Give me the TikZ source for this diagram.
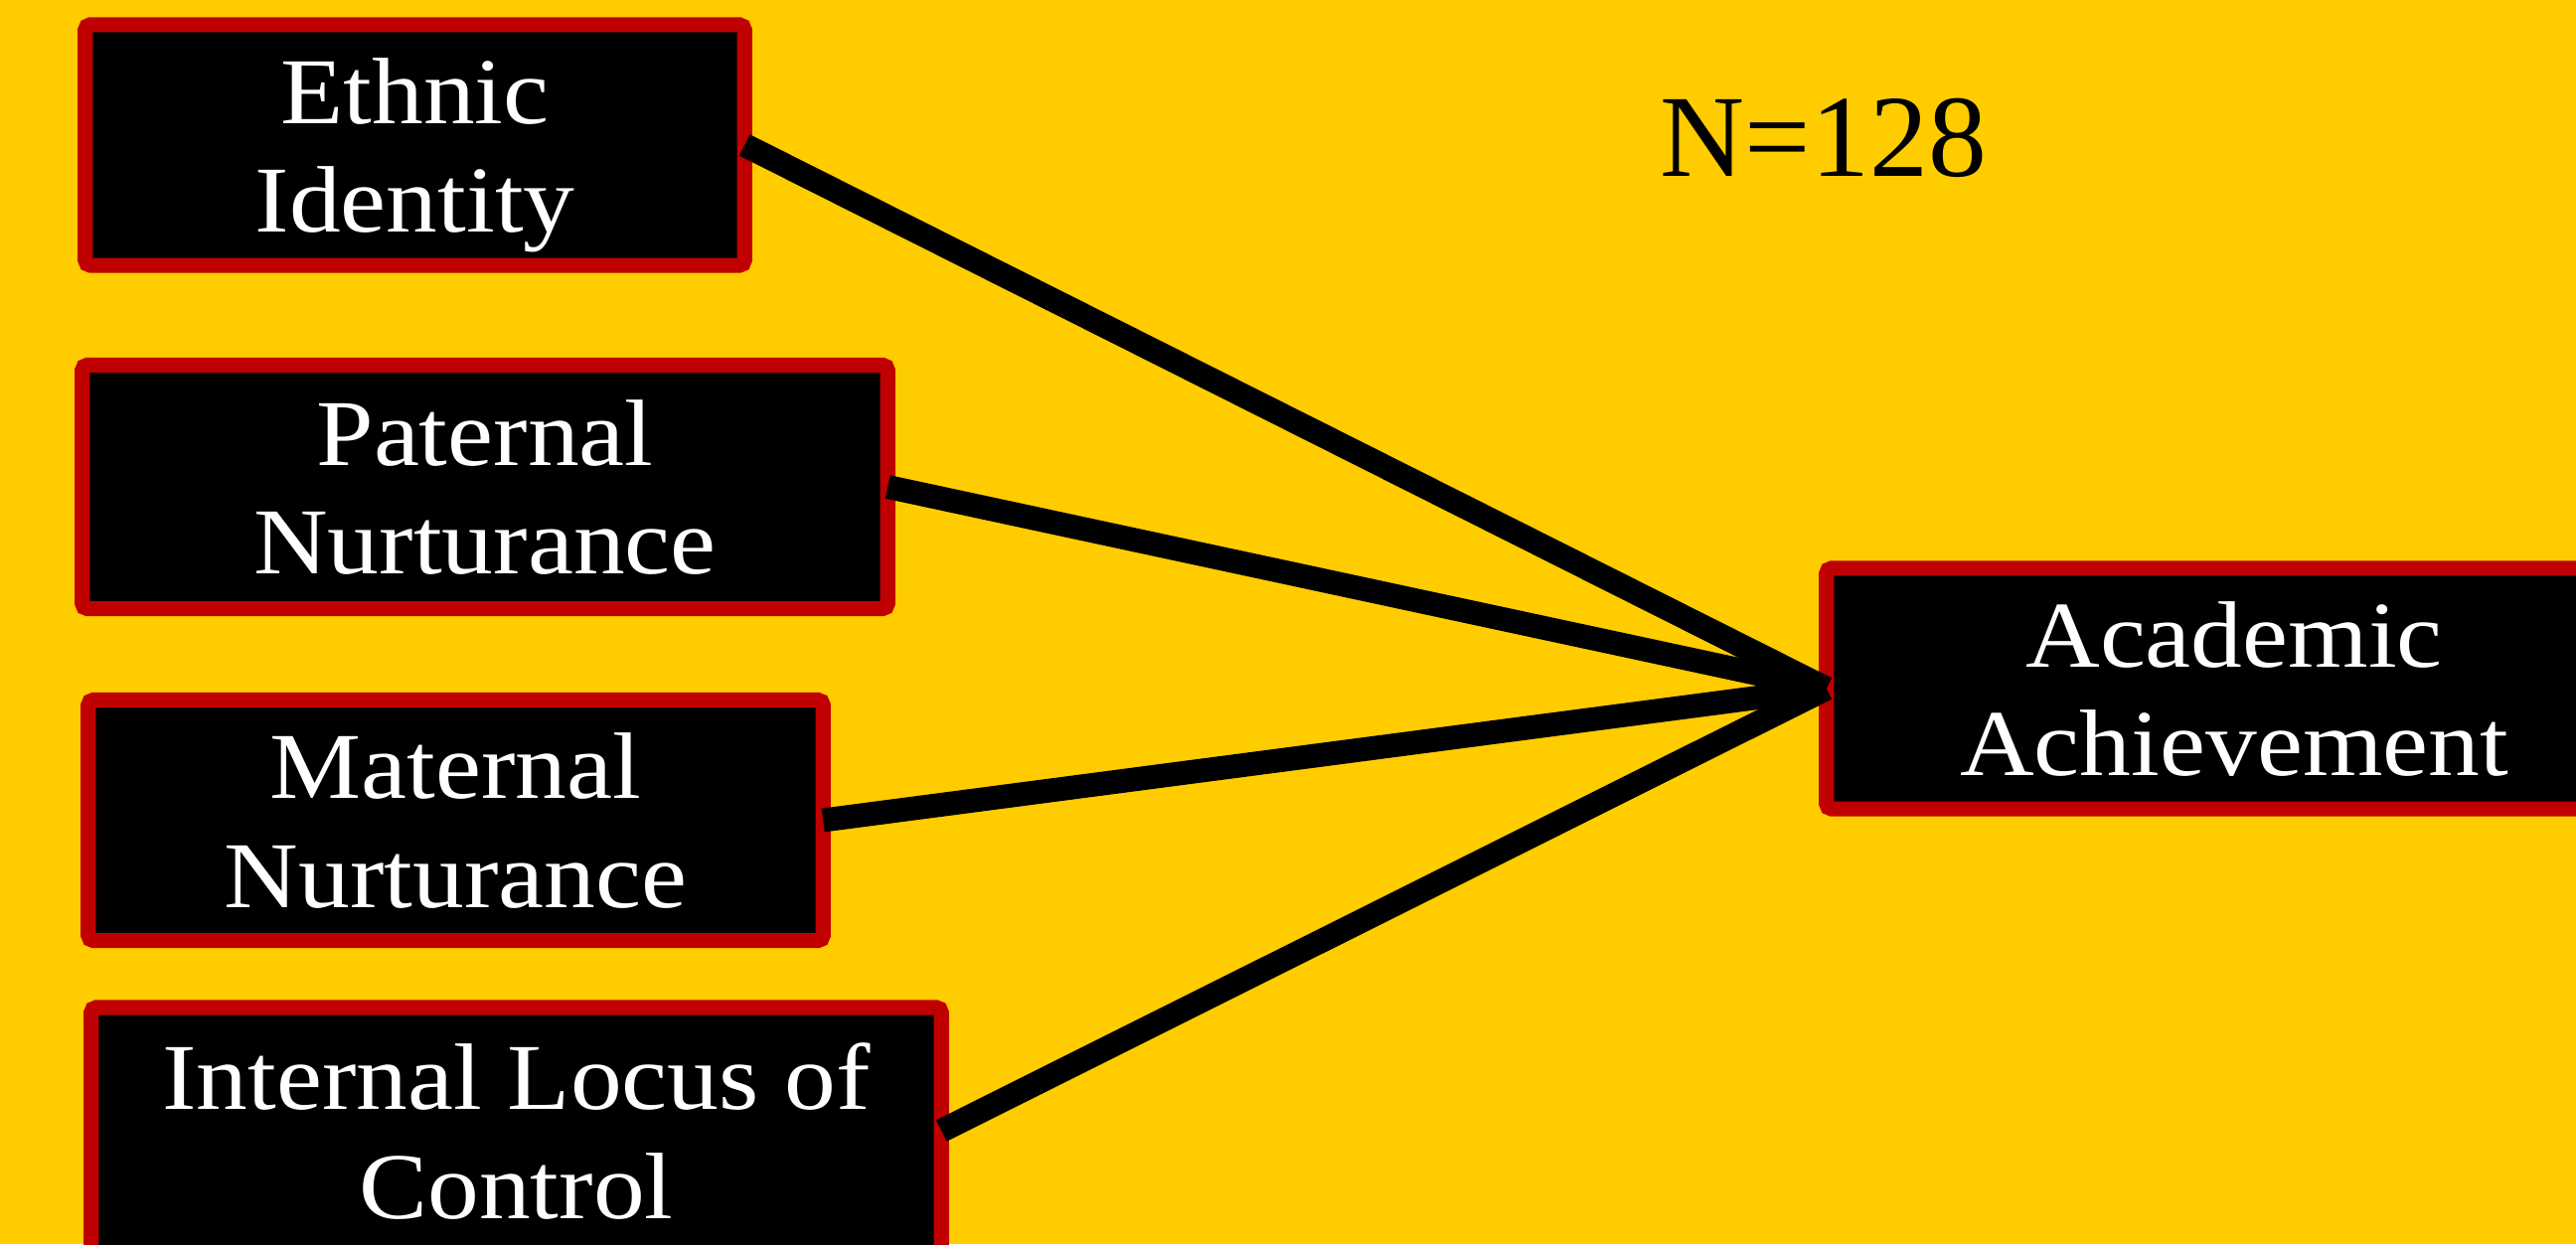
\documentclass[tikz,border=0pt]{standalone}
\usepackage{fontspec}
\setmainfont{Liberation Serif}
\newfontfamily\boxfont[FakeStretch=1.09]{Liberation Serif}
\definecolor{bgyellow}{HTML}{FFCC00}
\definecolor{boxred}{HTML}{C00000}
\tikzset{
  varbox/.style={draw=boxred, fill=black, line width=4.3pt, rounded corners=1.5pt,
    text=white, align=center, inner sep=0pt, outer sep=0pt, text depth=-0.15cm,
    font=\boxfont\fontsize{27}{31.2}\selectfont},
  link/.style={draw=black, line width=6.8pt}
}
\begin{document}
\begin{tikzpicture}[x=0.01cm, y=-0.01cm]
\fill[bgyellow] (0,0) rectangle (2592,1252);
\clip (0,0) rectangle (2592,1252);
\useasboundingbox (0,0) rectangle (2592,1252);
\node[varbox, minimum width=6.63cm, minimum height=2.42cm] (eth) at (417.5,146) {Ethnic\\Identity};
\node[varbox, minimum width=8.10cm, minimum height=2.45cm] (pat) at (488,490) {Paternal\\Nurturance};
\node[varbox, minimum width=7.39cm, minimum height=2.42cm] (mat) at (458.5,825.5) {Maternal\\Nurturance};
\node[varbox, minimum width=8.55cm, minimum height=2.48cm] (int) at (519.5,1138) {Internal Locus of\\Control};
\node[varbox, minimum width=8.20cm, minimum height=2.42cm] (acad) at (2248,693) {Academic\\Achievement};
\node[font=\fontsize{33.5}{36}\selectfont, text=black, inner sep=0pt, anchor=base] (n) at (1835,178) {N=128};
\draw[link] (eth.east) -- (acad.west);
\draw[link] (pat.east) -- (acad.west);
\draw[link] (mat.east) -- (acad.west);
\draw[link] (int.east) -- (acad.west);
\end{tikzpicture}
\end{document}
